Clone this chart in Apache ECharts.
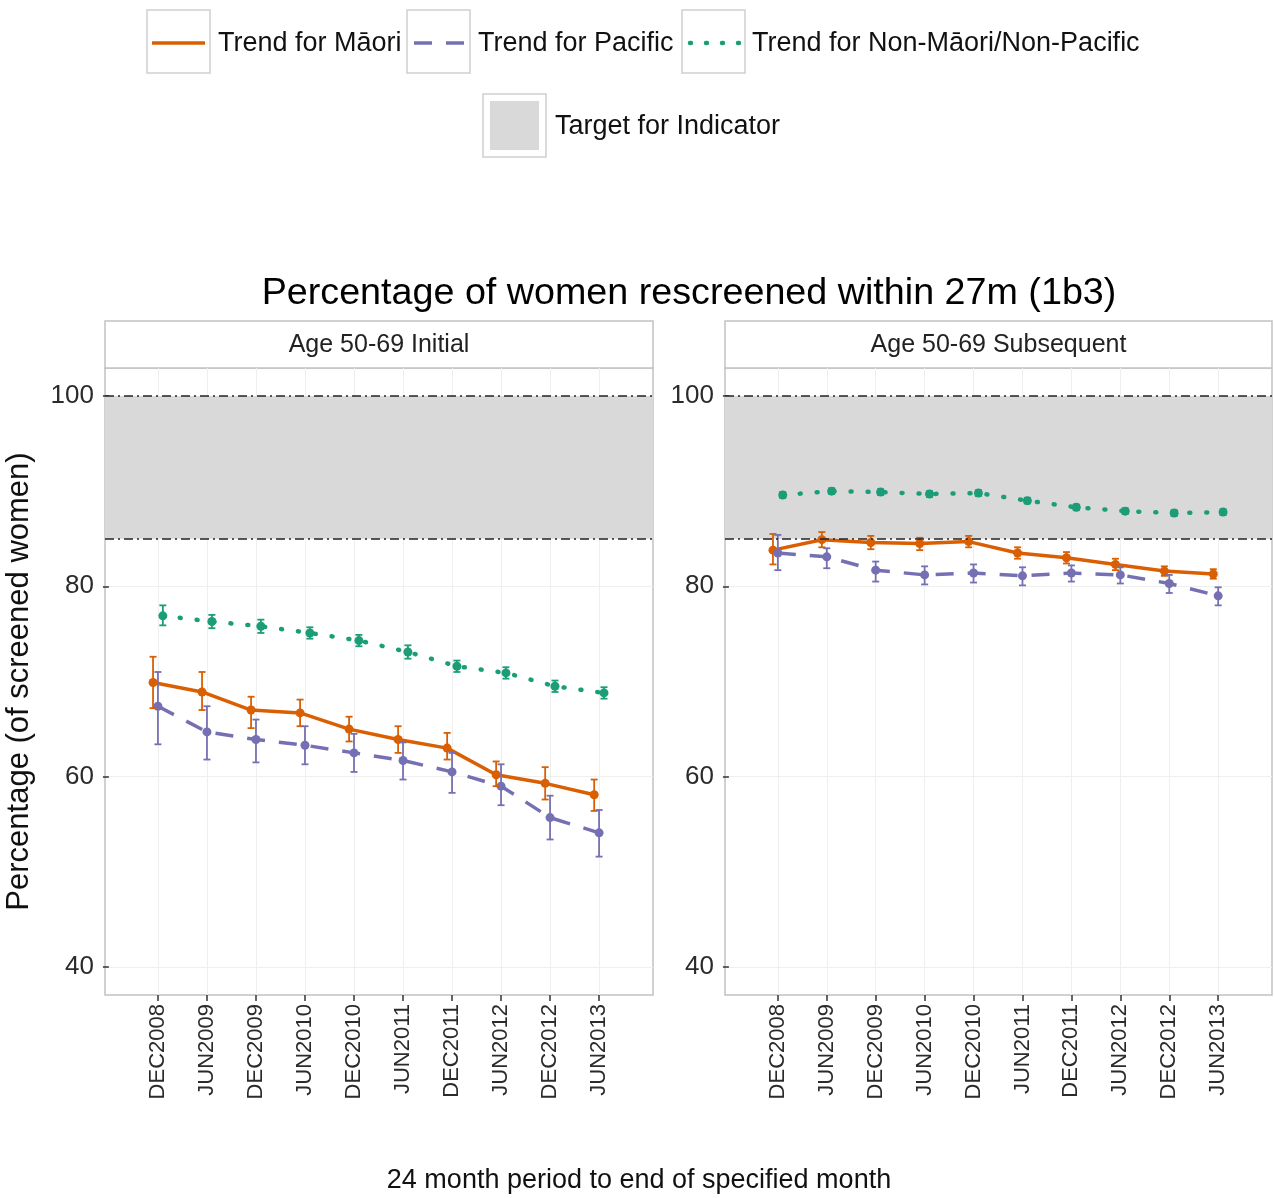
<!DOCTYPE html>
<html>
<head>
<meta charset="utf-8">
<script src="https://cdn.jsdelivr.net/npm/echarts@6/dist/echarts.min.js"></script>
<style>html,body{margin:0;padding:0;background:#fff;}#c{width:1274px;height:1198px;}</style>
</head>
<body>
<div id="c"></div>
<script>
// ---------- data ----------
const categories = ['DEC2008','JUN2009','DEC2009','JUN2010','DEC2010','JUN2011','DEC2011','JUN2012','DEC2012','JUN2013'];
const panels = ['Age 50-69 Initial','Age 50-69 Subsequent'];
const yTicks = [40, 60, 80, 100];
const targetLow = 85;
const targetHigh = 100;

// Age 50-69 Initial
const maoriInit     = [69.9, 68.9, 67.0, 66.7, 65.0, 63.9, 63.0, 60.2, 59.3, 58.1];
const maoriInitLo   = [67.2, 67.0, 65.1, 65.3, 63.7, 62.5, 61.8, 59.0, 57.6, 56.4];
const maoriInitHi   = [72.6, 71.0, 68.4, 68.1, 66.3, 65.3, 64.6, 61.6, 61.0, 59.7];
const pacificInit   = [67.4, 64.7, 63.9, 63.3, 62.5, 61.7, 60.5, 59.0, 55.7, 54.1];
const pacificInitLo = [63.4, 61.8, 61.5, 61.3, 60.5, 59.7, 58.3, 57.0, 53.4, 51.6];
const pacificInitHi = [71.0, 67.4, 66.0, 65.3, 64.5, 63.6, 62.5, 61.3, 58.0, 56.5];
const otherInit     = [76.9, 76.3, 75.8, 75.1, 74.3, 73.1, 71.6, 70.9, 69.5, 68.8];
const otherInitLo   = [75.9, 75.6, 75.1, 74.5, 73.7, 72.4, 71.0, 70.3, 68.9, 68.2];
const otherInitHi   = [78.0, 77.0, 76.5, 75.7, 74.9, 73.8, 72.2, 71.5, 70.1, 69.4];

// Age 50-69 Subsequent
const maoriSub      = [83.8, 84.9, 84.6, 84.5, 84.7, 83.5, 83.0, 82.3, 81.6, 81.3];
const maoriSubLo    = [82.3, 84.1, 83.9, 83.8, 84.1, 82.9, 82.4, 81.7, 81.1, 80.8];
const maoriSubHi    = [85.5, 85.7, 85.3, 85.1, 85.3, 84.1, 83.6, 82.9, 82.1, 81.8];
const pacificSub    = [83.5, 83.1, 81.7, 81.2, 81.4, 81.1, 81.4, 81.2, 80.3, 79.0];
const pacificSubLo  = [81.7, 81.9, 80.5, 80.2, 80.4, 80.1, 80.5, 80.3, 79.3, 78.0];
const pacificSubHi  = [85.4, 84.0, 82.6, 82.1, 82.3, 82.0, 82.2, 82.0, 81.2, 79.9];
const otherSub      = [89.6, 90.0, 89.9, 89.7, 89.8, 89.0, 88.3, 87.9, 87.7, 87.8];
const otherSubLo    = [89.3, 89.7, 89.6, 89.4, 89.5, 88.7, 88.0, 87.6, 87.4, 87.5];
const otherSubHi    = [89.9, 90.3, 90.2, 90.0, 90.1, 89.3, 88.6, 88.2, 88.0, 88.1];

// ---------- styling ----------
const FONT = "'Liberation Sans', Arial, Helvetica, sans-serif";
const C_MAORI = '#d95f02', C_PAC = '#7570b3', C_OTH = '#1b9e77';
const groups = [
  {name:'Trend for Māori', color:C_MAORI, dodge:-0.1, line:{type:'solid', width:3.5}, key:null, kx:[5,58]},
  {name:'Trend for Pacific', color:C_PAC, dodge:0, line:{type:[18,14], width:3.5}, key:[18,14], kx:[7,57]},
  {name:'Trend for Non-Māori/Non-Pacific', color:C_OTH, dodge:0.1, line:{type:[1,16], width:4.5, cap:'round'}, key:[1,15], kx:[8,57]}
];
const panelData = [
  [[maoriInit, maoriInitLo, maoriInitHi],[pacificInit, pacificInitLo, pacificInitHi],[otherInit, otherInitLo, otherInitHi]],
  [[maoriSub, maoriSubLo, maoriSubHi],[pacificSub, pacificSubLo, pacificSubHi],[otherSub, otherSubLo, otherSubHi]]
];
const xTickVals = categories.map((c,i)=>i+1);

const gridPos = [{left:105, width:548}, {left:725, width:547}];
const TOP = 368, HEIGHT = 627;

const grids = [], xAxes = [], yAxes = [], series = [];
gridPos.forEach((g, pi) => {
  grids.push({left:g.left, top:TOP, width:g.width, height:HEIGHT, show:true, borderColor:'#c2c2c2', borderWidth:1.5, backgroundColor:'#fff'});
  xAxes.push({
    type:'value', gridIndex:pi, min:-0.08, max:11.1,
    axisLine:{show:false},
    axisTick:{show:true, length:6, lineStyle:{color:'#333', width:1.5}, customValues:xTickVals},
    axisLabel:{show:true, customValues:xTickVals, rotate:90, margin:9, fontFamily:FONT, fontSize:22, color:'#2b2b2b',
      formatter:(v)=>categories[Math.round(v)-1] || ''},
    splitLine:{show:true, lineStyle:{color:'#efefef', width:1}}
  });
  yAxes.push({
    type:'value', gridIndex:pi, min:37.06, max:102.94,
    axisLine:{show:false},
    axisTick:{show:true, length:6, lineStyle:{color:'#333', width:1.5}, customValues:yTicks},
    axisLabel:{show:true, customValues:yTicks, margin:11, fontFamily:FONT, fontSize:26, color:'#2b2b2b'},
    splitLine:{show:true, lineStyle:{color:'#efefef', width:1}},
    name: pi===0 ? 'Percentage (of screened women)' : '',
    nameLocation:'middle', nameGap:70, nameRotate:90,
    nameTextStyle:{fontFamily:FONT, fontSize:31, color:'#111'}
  });
  // target band
  series.push({
    type:'line', xAxisIndex:pi, yAxisIndex:pi, data:[], silent:true, z:1,
    markArea:{silent:true, itemStyle:{color:'#d9d9d9'}, data:[[{yAxis:targetLow},{yAxis:targetHigh}]]},
    markLine:{silent:true, symbol:'none', label:{show:false},
      lineStyle:{color:'#222', type:[9,4,2,4], width:1.5},
      data:[{yAxis:targetLow},{yAxis:targetHigh}]}
  });
  groups.forEach((grp, gi) => {
    const [vals, lo, hi] = panelData[pi][gi];
    const pts = vals.map((v,i)=>[i+1+grp.dodge, v]);
    series.push({
      type:'line', name:grp.name, xAxisIndex:pi, yAxisIndex:pi, data:pts, z:3,
      symbol:'circle', symbolSize:9, itemStyle:{color:grp.color},
      lineStyle:Object.assign({color:grp.color}, grp.line),
      animation:false
    });
    series.push({
      type:'custom', xAxisIndex:pi, yAxisIndex:pi, z:4, silent:true,
      data: vals.map((v,i)=>[i+1+grp.dodge, lo[i], hi[i]]),
      renderItem:(params, api)=>{
        const x = api.value(0);
        const a = api.coord([x, api.value(2)]);
        const b = api.coord([x, api.value(1)]);
        const w = 3.5;
        const st = {stroke:grp.color, lineWidth:1.8};
        return {type:'group', children:[
          {type:'line', shape:{x1:a[0], y1:a[1], x2:b[0], y2:b[1]}, style:st},
          {type:'line', shape:{x1:a[0]-w, y1:a[1], x2:a[0]+w, y2:a[1]}, style:st},
          {type:'line', shape:{x1:b[0]-w, y1:b[1], x2:b[0]+w, y2:b[1]}, style:st}
        ]};
      },
      animation:false
    });
  });
});

// ---------- graphic: legend, strips, titles ----------
const graphic = [];
function keyBox(x, y){ return {type:'rect', shape:{x:x, y:y, width:63, height:63}, style:{fill:'#fff', stroke:'#cfcfcf', lineWidth:1.5}}; }
const legendKeys = [
  {x:147, y:10, textX:218, g:groups[0]},
  {x:407, y:10, textX:478, g:groups[1]},
  {x:682, y:10, textX:752, g:groups[2]}
];
legendKeys.forEach(k=>{
  graphic.push(keyBox(k.x, k.y));
  graphic.push({type:'line', shape:{x1:k.x+k.g.kx[0], y1:k.y+33, x2:k.x+k.g.kx[1], y2:k.y+33},
    style:{stroke:k.g.color, lineWidth:k.g.line.width, lineDash:k.g.key, lineCap:k.g.line.cap||'butt'}});
  graphic.push({type:'text', x:k.textX, y:k.y+34, style:{text:k.g.name, font:'27px '+FONT, fill:'#111', textVerticalAlign:'middle'}});
});
graphic.push(keyBox(483, 94));
graphic.push({type:'rect', shape:{x:490, y:101, width:49, height:49}, style:{fill:'#d9d9d9'}});
graphic.push({type:'text', x:555, y:127, style:{text:'Target for Indicator', font:'27px '+FONT, fill:'#111', textVerticalAlign:'middle'}});

// title
graphic.push({type:'text', x:689, y:294, style:{text:'Percentage of women rescreened within 27m (1b3)', font:'37.7px '+FONT, fill:'#000', textAlign:'center', textVerticalAlign:'middle'}});
// strips
gridPos.forEach((g, pi)=>{
  graphic.push({type:'rect', shape:{x:g.left, y:321, width:g.width, height:47}, style:{fill:'#fff', stroke:'#c2c2c2', lineWidth:1.5}});
  graphic.push({type:'text', x:g.left+g.width/2, y:345, style:{text:panels[pi], font:'25px '+FONT, fill:'#222', textAlign:'center', textVerticalAlign:'middle'}});
});
// x axis title
graphic.push({type:'text', x:639, y:1181, style:{text:'24 month period to end of specified month', font:'27px '+FONT, fill:'#111', textAlign:'center', textVerticalAlign:'middle'}});

const chart = echarts.init(document.getElementById('c'), null, {renderer:'canvas'});
chart.setOption({
  backgroundColor:'#fff',
  animation:false,
  grid:grids, xAxis:xAxes, yAxis:yAxes, series:series, graphic:graphic
});
</script>
</body>
</html>
